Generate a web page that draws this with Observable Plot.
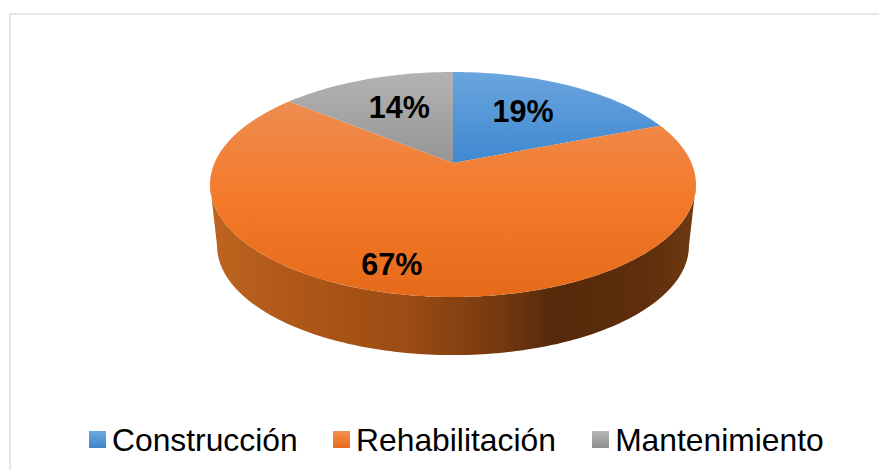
<!DOCTYPE html>
<html>
<head>
<meta charset="utf-8">
<script src="https://cdn.jsdelivr.net/npm/d3@7"></script>
<script src="https://cdn.jsdelivr.net/npm/@observablehq/plot@0.6"></script>
<style>
html,body{margin:0;padding:0;background:#fff;width:879px;height:470px;overflow:hidden}
#frame{position:absolute;left:9px;top:13px;width:870px;height:457px;border-left:2px solid #e6e7eb;border-top:2px solid #e6e7eb;box-sizing:border-box;pointer-events:none}
#chart{position:absolute;left:0;top:0}
#chart svg{display:block;background:transparent}
#legend{position:absolute;left:89px;top:415px;height:55px;display:flex;align-items:flex-start;font-family:"Liberation Sans",Arial,sans-serif;font-size:31.8px;line-height:36px;color:#000;white-space:nowrap}
#legend .item{display:flex;align-items:flex-start;padding-top:7px}
#legend .sw{width:17px;height:17px;margin:9px 6px 0 0;flex:none}
</style>
</head>
<body>
<div id="chart"></div>
<div id="legend"></div>
<div id="frame"></div>
<script>
const categories = ["Construcción", "Rehabilitación", "Mantenimiento"];
const shares = [19, 67, 14];
const shareLabels = ["19%", "67%", "14%"];
const topStops = [
  ["#6aa5de", "#3f88d0"],
  ["#ee8c50", "#f47a2a", "#e56a1a"],
  ["#b3b3b3", "#959595"]
];
const legendStops = [
  ["#6fa8df", "#3f85c9"],
  ["#f3914f", "#e9691a"],
  ["#b7b7b7", "#8e8e8e"]
];
const wallStops = [
  [0, "#bd6420"], [0.17, "#b05818"], [0.4, "#9c4c14"], [0.6, "#74390f"],
  [0.71, "#55290a"], [0.9, "#5f2f0c"], [1, "#6d3a12"]
];
const labelOffsets = [[-4, -2], [-36.5, 29], [1, -2]];
const legendGaps = [35.5, 36.3, 0];

// Tilted-disc perspective: unit circle to the plane of the x/y scales.
const k = 0.191, depth = 0.572, shrink = 0.971;
const project = (t, r = 1) => {
  const u = r * Math.sin(t), v = r * Math.cos(t), w = 1 + k * v;
  return {x: u / w, y: v / w};
};
const total = d3.sum(shares);
let acc = 0;
const slices = shares.map((s, i) => {
  const a0 = acc / total * 2 * Math.PI;
  acc += s;
  const a1 = acc / total * 2 * Math.PI;
  const n = Math.max(2, Math.ceil(s * 4));
  const pts = d3.range(n + 1).map(j => project(a0 + (a1 - a0) * j / n));
  return {i, a0, a1, pts};
});
const limit = Math.acos(-k);
const wall = d3.range(161).map(j => {
  const t = limit + (2 * Math.PI - 2 * limit) * j / 160;
  const p = project(t);
  return {x1: p.x, y1: p.y, x2: p.x * shrink, y2: p.y * shrink - depth};
});

function gradient(defs, id, stops, horizontal) {
  const g = defs.append("linearGradient").attr("id", id)
    .attr("x1", 0).attr("y1", 0)
    .attr("x2", horizontal ? 1 : 0).attr("y2", horizontal ? 0 : 1);
  stops.forEach((s, j) => {
    const offset = Array.isArray(s) ? s[0] : j / (stops.length - 1);
    g.append("stop").attr("offset", offset).attr("stop-color", Array.isArray(s) ? s[1] : s);
  });
}
const defsMark = () => {
  const defs = d3.create("svg:defs");
  topStops.forEach((s, i) => gradient(defs, "slice" + i, s, false));
  gradient(defs, "wall", wallStops, true);
  return defs.node();
};

const plot = Plot.plot({
  width: 879,
  height: 415,
  margin: 0,
  axis: null,
  x: {type: "linear", domain: [-1, 1], range: [453 - 238.5, 453 + 238.5]},
  y: {type: "linear", domain: [-1, 1], range: [163 + 108.4, 163 - 108.4]},
  marks: [
    defsMark,
    Plot.area(wall, {x1: "x1", y1: "y1", x2: "x2", y2: "y2", fill: "url(#wall)"}),
    ...slices.map(s => Plot.area(s.pts, {
      x1: () => 0, y1: () => 0, x2: "x", y2: "y",
      fill: `url(#slice${s.i})`
    })),
    ...slices.map(s => {
      const p = project((s.a0 + s.a1) / 2, 0.6);
      return Plot.text([shareLabels[s.i]], {
        x: () => p.x, y: () => p.y, text: d => d,
        dx: labelOffsets[s.i][0], dy: labelOffsets[s.i][1],
        fontFamily: "Liberation Sans, Arial, sans-serif",
        fontWeight: "bold", fontSize: 30.5, fill: "#000"
      });
    })
  ]
});
document.getElementById("chart").append(plot);

const legend = d3.select("#legend");
categories.forEach((c, i) => {
  const item = legend.append("div").attr("class", "item")
    .style("margin-right", legendGaps[i] + "px");
  item.append("span").attr("class", "sw")
    .style("background", `linear-gradient(${legendStops[i][0]}, ${legendStops[i][1]})`);
  item.append("span").text(c);
});
</script>
</body>
</html>
